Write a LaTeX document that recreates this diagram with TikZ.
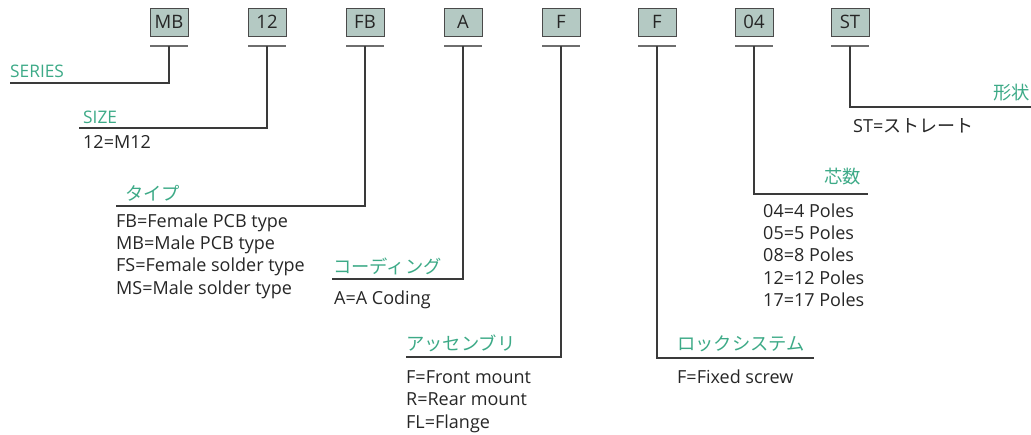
\documentclass[tikz,border=0pt]{standalone}
\usepackage{fontspec}
\setmainfont{Open Sans}
\newfontfamily\jpfont{Noto Sans CJK JP}
\definecolor{boxfill}{HTML}{B4C9C3}
\definecolor{boxborder}{HTML}{4A4A4A}
\definecolor{ulcolor}{HTML}{6E6E6E}
\definecolor{linecolor}{HTML}{3A3A3A}
\definecolor{labelgreen}{HTML}{3DAA87}
\definecolor{textdark}{HTML}{262626}
\begin{document}
\begin{tikzpicture}[x=1pt,y=-1pt,
  codebox/.style={draw=boxborder, fill=boxfill, line width=1pt, minimum width=38pt, minimum height=28pt, inner sep=0pt, text=textdark, font=\fontsize{18.5}{18.5}\selectfont},
  uline/.style={draw=ulcolor, line width=1.4pt},
  conn/.style={draw=linecolor, line width=1.1pt},
  lbl/.style={anchor=base west, inner sep=0pt, text=labelgreen, font=\fontsize{17.3}{17.3}\selectfont},
  jplbl/.style={anchor=base west, inner sep=0pt, text=labelgreen, font=\jpfont\fontsize{18.3}{18.3}\selectfont},
  desc/.style={anchor=base west, inner sep=0pt, align=left, text=textdark, font=\fontsize{18}{22.3}\selectfont}
]
\useasboundingbox (0,0) rectangle (1031,434);

% code boxes
\foreach \n/\x/\t in {mb/169/MB, sz/267/12, fb/365/FB, a/463/A, f1/561/F, f2/657/F, p/754/04, st/850/ST}{
  \node[codebox] (\n) at (\x,22) {\t};
  \coordinate (\n u) at (\x,46);
  \draw[uline] (\x-19,46) -- (\x+19,46);
}

% corner / end coordinates
\coordinate (mbc) at (169,83);   \coordinate (mbe) at (10,83);
\coordinate (szc) at (267,128);  \coordinate (sze) at (79,128);
\coordinate (fbc) at (365,206);  \coordinate (fbe) at (116,206);
\coordinate (ac)  at (463,279);  \coordinate (ae)  at (332,279);
\coordinate (f1c) at (561,357);  \coordinate (f1e) at (406,357);
\coordinate (f2c) at (657,358);  \coordinate (f2e) at (814,358);
\coordinate (pc)  at (754,194);  \coordinate (pe)  at (868,194);
\coordinate (stc) at (850,107);  \coordinate (ste) at (1031,107);

\draw[conn] (mbu) -- (mbc) -- (mbe);
\draw[conn] (szu) -- (szc) -- (sze);
\draw[conn] (fbu) -- (fbc) -- (fbe);
\draw[conn] (au)  -- (ac)  -- (ae);
\draw[conn] (f1u) -- (f1c) -- (f1e);
\draw[conn] (f2u) -- (f2c) -- (f2e);
\draw[conn] (pu)  -- (pc)  -- (pe);
\draw[conn] (stu) -- (stc) -- (ste);

% labels
\node[lbl] (lseries) at (10,77) {SERIES};
\node[lbl] (lsize) at (83,123) {SIZE};
\node[jplbl] (ltype) at (125,200.5) {タイプ};
\node[jplbl] (lcode) at (333,273) {コーディング};
\node[jplbl] (lasm) at (406,350) {アッセンブリ};
\node[jplbl] (llock) at (677,350) {ロックシステム};
\node[jplbl, anchor=base east] (lpole) at (861,183.5) {芯数};
\node[jplbl, anchor=base east] (lshape) at (1030,99) {形状};

% descriptions (base = baseline of last line)
\node[desc] (dsize) at (83,148) {12=M12};
\node[desc] (dtype) at (116,294) {FB=Female PCB type\\MB=Male PCB type\\FS=Female solder type\\MS=Male solder type};
\node[desc] (dcode) at (334,304) {A=A Coding};
\node[desc] (dasm) at (406,428) {F=Front mount\\R=Rear mount\\FL=Flange};
\node[desc] (dlock) at (677,383) {F=Fixed screw};
\node[desc] (dpole) at (763,306.5) {04=4 Poles\\05=5 Poles\\08=8 Poles\\12=12 Poles\\17=17 Poles};
\node[desc] (dshape) at (853,132) {ST={\jpfont ストレート}};
\end{tikzpicture}
\end{document}
